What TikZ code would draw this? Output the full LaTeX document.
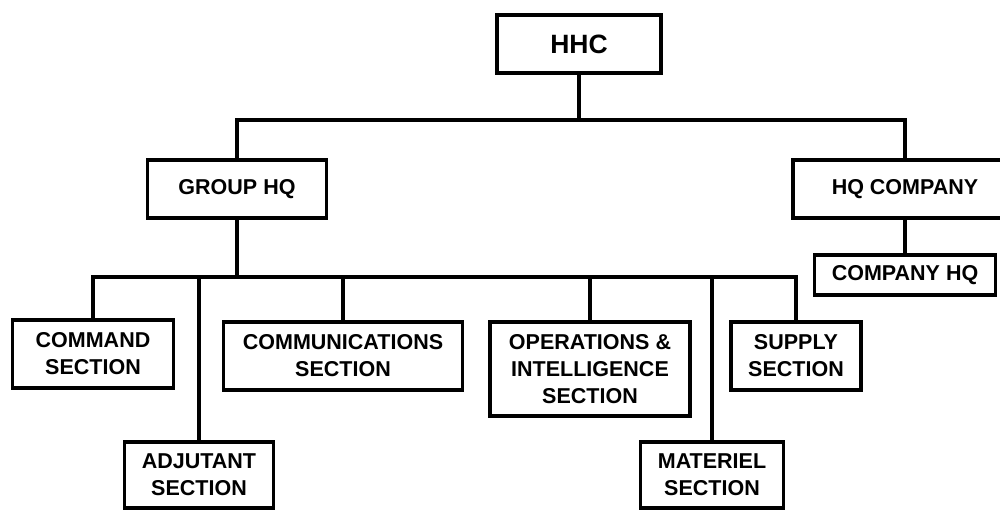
\documentclass[tikz,border=0pt]{standalone}
\usepackage{fontspec}
\setmainfont{Liberation Sans}
\begin{document}
\begin{tikzpicture}[x=1pt,y=-1pt,
  box/.style={draw=black,line width=3.5pt,fill=white,inner sep=0pt,align=center,
    font=\fontsize{21.5}{27}\selectfont\bfseries},
  conn/.style={line width=3.5pt,line join=miter}]
\clip (0,0) rectangle (1000,510);
\fill[white] (0,0) rectangle (1000,510);
% nodes
\node[box,minimum width=164,minimum height=58,font=\fontsize{26.5}{30}\selectfont\bfseries] (hhc) at (579,44) {HHC};
\node[box,minimum width=179,minimum height=58] (ghq) at (237,189) {GROUP HQ};
\node[box,minimum width=224,minimum height=58] (hqc) at (905,189) {HQ COMPANY};
\node[box,minimum width=181,minimum height=40] (chq) at (905,275) {COMPANY HQ};
\node[box,minimum width=161,minimum height=68] (cmd) at (93,354) {COMMAND\\SECTION};
\node[box,minimum width=239,minimum height=68] (comm) at (343,356) {COMMUNICATIONS\\SECTION};
\node[box,minimum width=200,minimum height=94] (ops) at (590,369) {OPERATIONS \&\\INTELLIGENCE\\SECTION};
\node[box,minimum width=130,minimum height=68] (sup) at (796,356) {SUPPLY\\SECTION};
\node[box,minimum width=149,minimum height=66] (adj) at (199,475) {ADJUTANT\\SECTION};
\node[box,minimum width=143,minimum height=66] (mat) at (712,475) {MATERIEL\\SECTION};
% buses
\coordinate (t) at (579,120);
\coordinate (m) at (237,277);
\draw[conn] (hhc) -- (t);
\draw[conn] (ghq.north) |- (t);
\draw[conn] (hqc.north) |- (t);
\draw[conn] (hqc) -- (chq);
\draw[conn] (ghq) -- (m);
\draw[conn] (cmd.north) |- (m);
\draw[conn] (adj.north) |- (m);
\draw[conn] (comm.north) |- (m);
\draw[conn] (ops.north) |- (m);
\draw[conn] (mat.north) |- (m);
\draw[conn] (sup.north) |- (m);
\end{tikzpicture}
\end{document}
